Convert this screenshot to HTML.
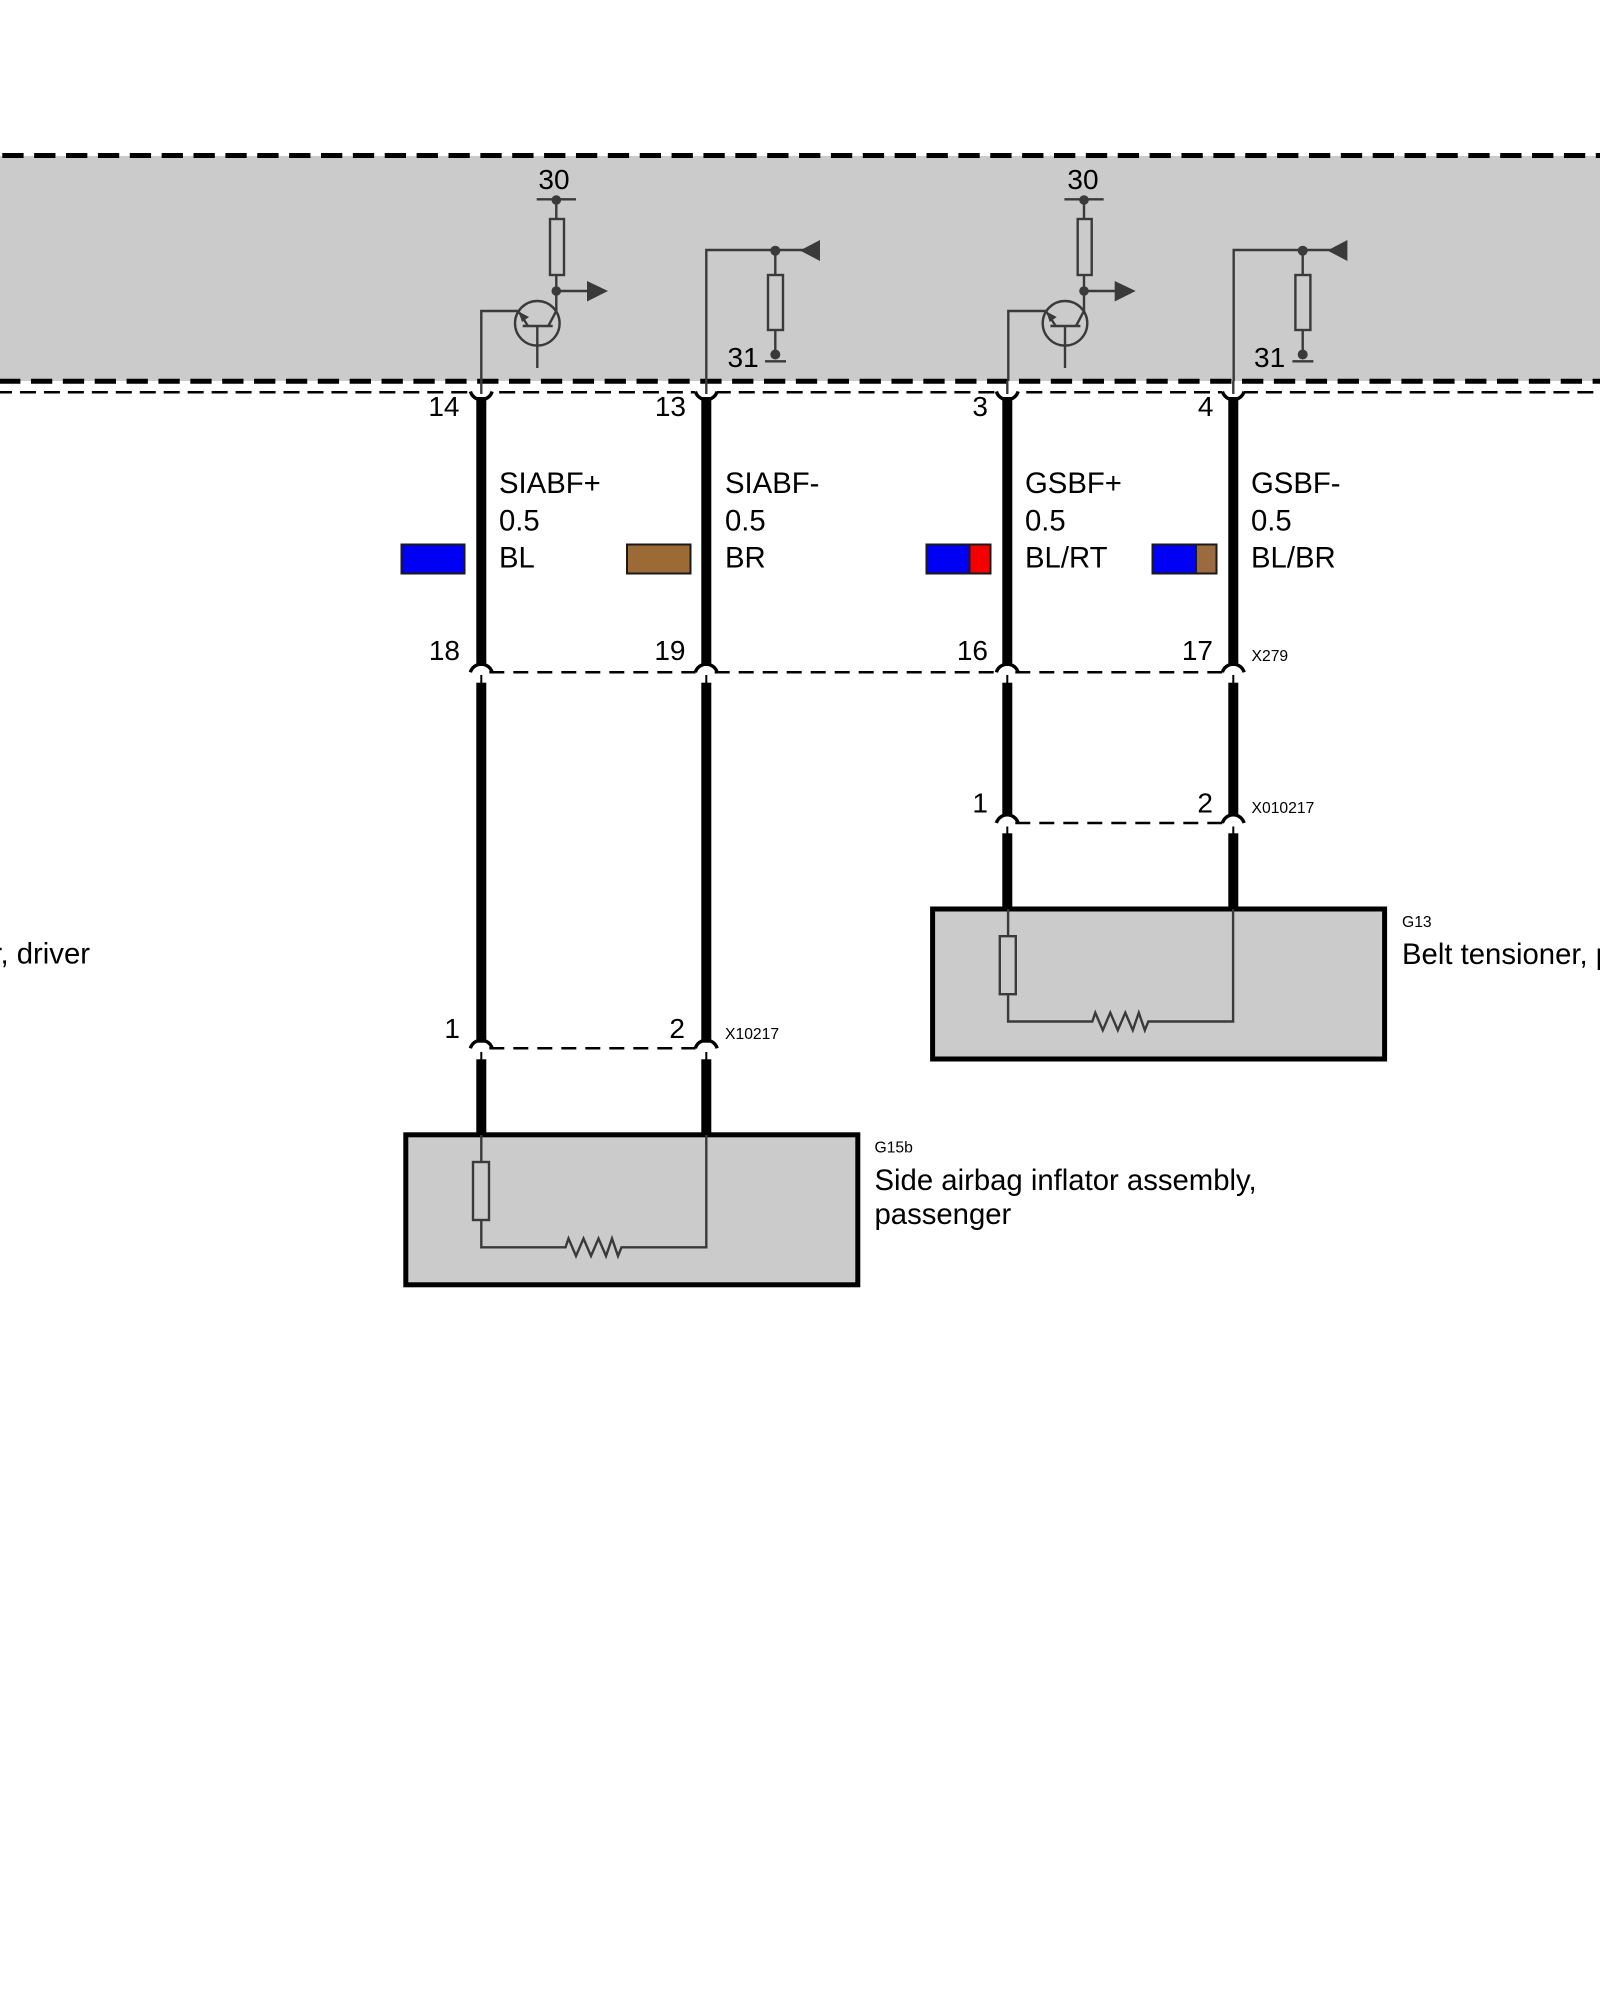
<!DOCTYPE html>
<html><head><meta charset="utf-8"><style>
html,body{margin:0;padding:0;background:#fff}
svg{display:block}
text{font-family:"Liberation Sans",Arial,sans-serif;fill:#000;font-size:28px}
.t{font-size:29.3px}
.s{font-size:15.7px}
.e{text-anchor:end}
.g{fill:none;stroke:#3a3a3a;stroke-width:2.4}
.f{fill:#3a3a3a}
.d{fill:none;stroke:#000;stroke-width:2.5;stroke-dasharray:15 9}
</style></head><body>
<svg width="1600" height="2000" viewBox="0 0 1600 2000" xmlns="http://www.w3.org/2000/svg">
<defs>
<g id="trans">
<path class="g" d="M536.7 199.3H576M556.3 200V219M556.3 275V311L548.3 326M522.7 326H552.7M537.3 326V368M518.3 311L528 326"/>
<rect class="g" x="550" y="219" width="14" height="56"/>
<circle class="g" cx="537.3" cy="323.3" r="22.3"/>
<circle class="f" cx="556.3" cy="200" r="4.8"/>
<circle class="f" cx="556.3" cy="291" r="4.8"/>
<path class="g" d="M556.3 291H590"/>
<path class="f" d="M587 281L608 291L587 301.5Z"/>
<path class="f" d="M518.5 311.5L529 317L522 322Z"/>
</g>
<g id="sense">
<path class="g" d="M706.3 381V250H805M775.3 250V275M775.3 330V354M765 361.3H786"/>
<rect class="g" x="768" y="275" width="15" height="55"/>
<circle class="f" cx="775.3" cy="250.7" r="5"/>
<circle class="f" cx="775.3" cy="354.5" r="5"/>
<path class="f" d="M800 250.5L820 240V261Z"/>
</g>
<g id="load">
<rect x="405.8" y="1134.8" width="452" height="150" fill="#cbcbcb" stroke="#000" stroke-width="5"/>
<path class="g" d="M481.3 1135V1162M481.3 1220V1247.3H565.5L568.5 1238.5L576 1256L583.5 1238.5L591 1256L598.5 1238.5L606 1256L612 1238.5L618 1256L621.5 1247.3H706.3V1135"/>
<rect class="g" x="473" y="1162" width="16" height="58"/>
</g>
<path id="up" d="M0 0A11.3 11.3 0 0 0 21.7 0" fill="none" stroke="#000" stroke-width="3.4"/>
<path id="dn" d="M0 0A11.3 11.3 0 0 1 21.7 0" fill="none" stroke="#000" stroke-width="3.4"/>
</defs>

<rect x="0" y="0" width="1600" height="2000" fill="#fff"/>
<rect x="0" y="156" width="1600" height="225" fill="#cbcbcb"/>
<path d="M2.3 155.5H1600" fill="none" stroke="#000" stroke-width="5" stroke-dasharray="21.3 10.57"/>
<path d="M-0.9 381.3H1600" fill="none" stroke="#000" stroke-width="5" stroke-dasharray="21.3 10.57"/>
<path d="M-4 392.3H1600" fill="none" stroke="#000" stroke-width="2.5" stroke-dasharray="16 7.96"/>

<!-- clear around pins -->
<rect x="470" y="386" width="22" height="12" fill="#fff"/>
<rect x="695" y="386" width="22" height="12" fill="#fff"/>
<rect x="996" y="386" width="22" height="12" fill="#fff"/>
<rect x="1222" y="386" width="22" height="12" fill="#fff"/>

<use href="#trans"/>
<use href="#sense"/>
<use href="#trans" transform="translate(527.7 0)"/>
<use href="#sense" transform="translate(527.4 0)"/>
<path class="g" d="M481.3 381V311H518.3M1008.3 381V311H1046"/>

<!-- top stems & arcs -->
<path class="g" d="M481.3 381V394M706.3 381V394M1007.3 381V394M1233.3 381V394"/>
<use href="#up" x="470.4" y="391.5"/><use href="#up" x="695.4" y="391.5"/><use href="#up" x="996.4" y="391.5"/><use href="#up" x="1222.4" y="391.5"/>

<!-- wires -->
<g fill="#000">
<rect x="476.3" y="397" width="10" height="269"/><rect x="701.3" y="397" width="10" height="269"/><rect x="1002.3" y="397" width="10" height="269"/><rect x="1228.3" y="397" width="10" height="269"/>
<rect x="476.3" y="682.7" width="10" height="360"/><rect x="701.3" y="682.7" width="10" height="360"/>
<rect x="476.3" y="1059.3" width="10" height="76"/><rect x="701.3" y="1059.3" width="10" height="76"/>
<rect x="1002.3" y="682.7" width="10" height="133"/><rect x="1228.3" y="682.7" width="10" height="133"/>
<rect x="1002.3" y="833.3" width="10" height="75"/><rect x="1228.3" y="833.3" width="10" height="75"/>
</g>

<!-- lower connectors -->
<path class="d" d="M489.3 672.3H695.5"/>
<path class="d" d="M714.7 672.3H997"/>
<path class="d" d="M1015.3 672.3H1223"/>
<path class="d" d="M489.3 1048.3H695.5"/>
<path class="d" d="M1015.3 823H1223"/>
<use href="#dn" x="470.4" y="672.3"/><use href="#dn" x="695.4" y="672.3"/><use href="#dn" x="996.4" y="672.3"/><use href="#dn" x="1222.4" y="672.3"/>
<use href="#dn" x="470.4" y="1048.3"/><use href="#dn" x="695.4" y="1048.3"/>
<use href="#dn" x="996.4" y="823"/><use href="#dn" x="1222.4" y="823"/>
<path d="M481.3 675V683M706.3 675V683M1007.3 675V683M1233.3 675V683M481.3 1052V1059.5M706.3 1052V1059.5M1007.3 826.5V834M1233.3 826.5V834" stroke="#000" stroke-width="2" fill="none"/>

<use href="#load"/>
<use href="#load" transform="translate(526.8 -225.8)"/>

<!-- swatches -->
<g stroke="#1a1a1a" stroke-width="2">
<rect x="401.5" y="544.5" width="63" height="29" fill="#0000f5"/>
<rect x="627" y="544.5" width="63.5" height="29" fill="#9c6a35"/>
<rect x="926.5" y="544.5" width="64" height="29" fill="#0000f5"/>
<rect x="969.5" y="544.5" width="21" height="29" fill="#f50000"/>
<rect x="1152.5" y="544.5" width="64" height="29" fill="#0000f5"/>
<rect x="1196" y="544.5" width="20.5" height="29" fill="#9c6a3f"/>
</g>

<!-- labels -->
<text x="554" y="189" text-anchor="middle">30</text>
<text x="1083" y="189" text-anchor="middle">30</text>
<text x="727.5" y="367">31</text>
<text x="1254" y="367">31</text>

<text class="e" x="459.5" y="416">14</text>
<text class="e" x="686" y="416">13</text>
<text class="e" x="988" y="416">3</text>
<text class="e" x="1213.5" y="416">4</text>
<text class="e" x="460" y="660">18</text>
<text class="e" x="685.5" y="660">19</text>
<text class="e" x="988" y="660">16</text>
<text class="e" x="1213" y="660">17</text>

<text class="t" x="499" y="493">SIABF+</text><text class="t" x="499" y="530.5">0.5</text><text class="t" x="499" y="567.3">BL</text>
<text class="t" x="725" y="493">SIABF-</text><text class="t" x="725" y="530.5">0.5</text><text class="t" x="725" y="567.3">BR</text>
<text class="t" x="1025" y="493">GSBF+</text><text class="t" x="1025" y="530.5">0.5</text><text class="t" x="1025" y="567.3">BL/RT</text>
<text class="t" x="1251" y="493">GSBF-</text><text class="t" x="1251" y="530.5">0.5</text><text class="t" x="1251" y="567.3">BL/BR</text>

<text class="s" x="1251.5" y="661">X279</text>
<text class="s" x="1251.5" y="813">X010217</text>
<text class="s" x="725" y="1039">X10217</text>

<text class="e" x="460" y="1038">1</text>
<text class="e" x="685" y="1038">2</text>
<text class="e" x="988" y="812.7">1</text>
<text class="e" x="1213" y="812.7">2</text>

<text class="s" x="874.5" y="1152.7">G15b</text>
<text class="t" x="874.5" y="1190">Side airbag inflator assembly,</text>
<text class="t" x="874.5" y="1224">passenger</text>
<text class="s" x="1402" y="927">G13</text>
<text class="t" x="1402" y="964">Belt tensioner, passenger</text>
<text class="t e" x="90" y="963.5">Belt tensioner, driver</text>
</svg>
</body></html>
